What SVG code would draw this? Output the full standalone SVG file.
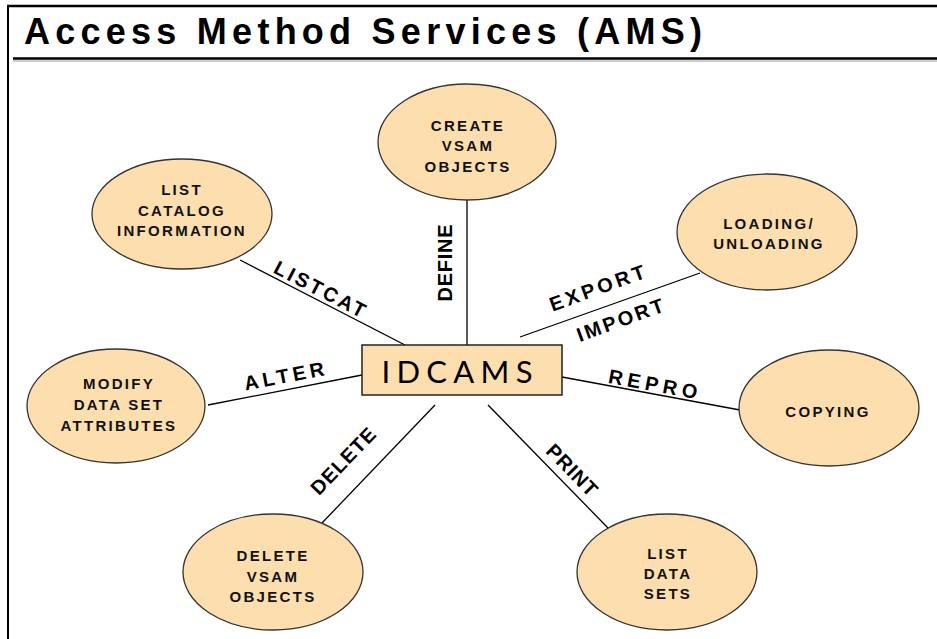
<svg xmlns="http://www.w3.org/2000/svg" width="937" height="639" viewBox="0 0 937 639">
<style>
.node ellipse{fill:#FDDEAE;stroke:#333;stroke-width:1.3}
.nt{font-family:"Liberation Sans",Arial,sans-serif;font-weight:bold;font-size:15px;letter-spacing:2.3px;text-anchor:middle;fill:#111}
.conn line{stroke:#000;stroke-width:1.3}
.lbl{font-family:"Liberation Sans",Arial,sans-serif;font-weight:bold;font-size:20px;text-anchor:middle;fill:#000}
</style>
<rect width="937" height="639" fill="#fff"/>
<g id="frame">
<line x1="7" y1="6" x2="937" y2="6" stroke="#000" stroke-width="2.5"/>
<line x1="8" y1="5" x2="8" y2="639" stroke="#000" stroke-width="2"/>
<line x1="13" y1="58.5" x2="937" y2="58.5" stroke="#000" stroke-width="2.5"/>
<line x1="13" y1="61" x2="937" y2="61" stroke="#999" stroke-width="1"/>
<text x="24" y="44" font-family="'Liberation Sans',Arial,sans-serif" font-weight="bold" font-size="36" textLength="678" lengthAdjust="spacing" fill="#000">Access Method Services (AMS)</text>
</g>
<g id="connectors" class="conn">
<line x1="467" y1="200" x2="467" y2="345"/>
<line x1="240" y1="260" x2="405" y2="345"/>
<line x1="520" y1="337" x2="700" y2="273"/>
<line x1="208" y1="405" x2="362" y2="375"/>
<line x1="562" y1="377" x2="740" y2="410"/>
<line x1="322" y1="523" x2="435" y2="405"/>
<line x1="488" y1="405" x2="608" y2="528"/>
<text class="lbl" transform="translate(445,263) rotate(-90)" y="7" textLength="77" lengthAdjust="spacing">DEFINE</text>
<text class="lbl" transform="translate(320,289) rotate(27.3)" y="7" textLength="100" lengthAdjust="spacing">LISTCAT</text>
<text class="lbl" transform="translate(597,288) rotate(-20)" y="7" textLength="100" lengthAdjust="spacing">EXPORT</text>
<text class="lbl" transform="translate(620,320) rotate(-20)" y="7" textLength="91" lengthAdjust="spacing">IMPORT</text>
<text class="lbl" transform="translate(284,376) rotate(-11)" y="7" textLength="81" lengthAdjust="spacing">ALTER</text>
<text class="lbl" transform="translate(653,384) rotate(10.4)" y="7" textLength="90" lengthAdjust="spacing">REPRO</text>
<text class="lbl" transform="translate(343,461) rotate(-46.2)" y="7" textLength="84" lengthAdjust="spacing">DELETE</text>
<text class="lbl" transform="translate(572,470) rotate(45.7)" y="7" textLength="64" lengthAdjust="spacing">PRINT</text>
</g>
<g id="idcams" class="node">
<rect x="362" y="345" width="200" height="50" fill="#FDDEAE" stroke="#222" stroke-width="1.5"/>
<text x="457" y="383" font-family="Lato,'Open Sans',sans-serif" font-size="31" textLength="151" lengthAdjust="spacing" text-anchor="middle" fill="#000">IDCAMS</text>
</g>
<g id="create" class="node">
<ellipse cx="467" cy="142" rx="89" ry="58"/>
<text class="nt" x="468" y="130.5">CREATE</text>
<text class="nt" x="468" y="151">VSAM</text>
<text class="nt" x="468" y="171.5">OBJECTS</text>
</g>
<g id="listcat" class="node">
<ellipse cx="182" cy="214" rx="90" ry="55"/>
<text class="nt" x="182" y="194.5">LIST</text>
<text class="nt" x="182" y="215.5">CATALOG</text>
<text class="nt" x="182" y="236">INFORMATION</text>
</g>
<g id="loading" class="node">
<ellipse cx="767" cy="232" rx="90" ry="58"/>
<text class="nt" x="769" y="228.5">LOADING/</text>
<text class="nt" x="769" y="248.5">UNLOADING</text>
</g>
<g id="modify" class="node">
<ellipse cx="116" cy="406" rx="89" ry="57"/>
<text class="nt" x="119" y="388.5">MODIFY</text>
<text class="nt" x="119" y="410">DATA SET</text>
<text class="nt" x="119" y="430.5">ATTRIBUTES</text>
</g>
<g id="copying" class="node">
<ellipse cx="829" cy="408" rx="90" ry="58"/>
<text class="nt" x="828" y="416.5">COPYING</text>
</g>
<g id="deletevsam" class="node">
<ellipse cx="273" cy="572" rx="90" ry="58"/>
<text class="nt" x="273" y="560.5">DELETE</text>
<text class="nt" x="273" y="581.5">VSAM</text>
<text class="nt" x="273" y="602">OBJECTS</text>
</g>
<g id="listdata" class="node">
<ellipse cx="667" cy="572" rx="90" ry="58"/>
<text class="nt" x="668" y="558.5">LIST</text>
<text class="nt" x="668" y="578.5">DATA</text>
<text class="nt" x="668" y="598.5">SETS</text>
</g>
</svg>
